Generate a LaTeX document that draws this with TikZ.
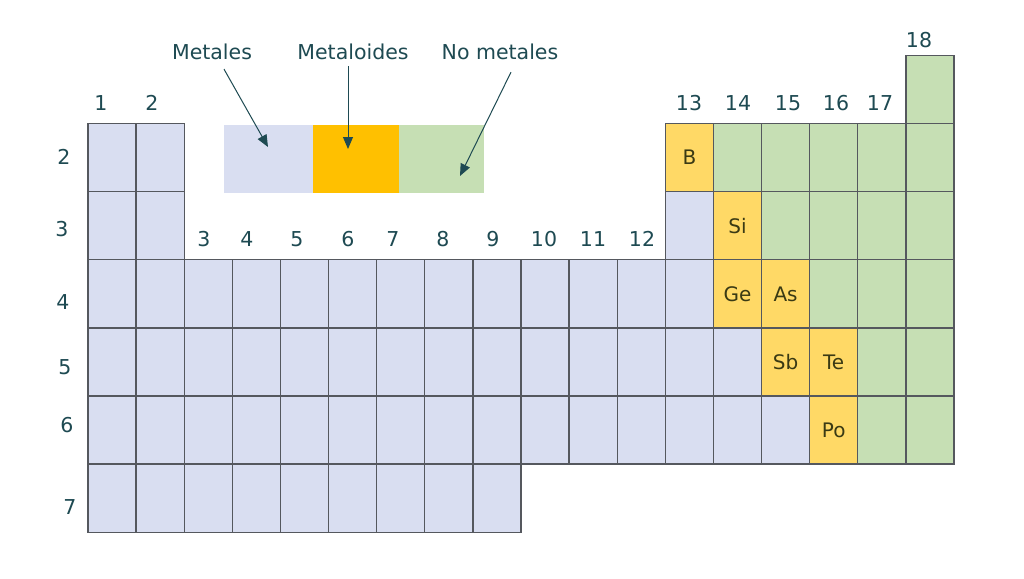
\documentclass[tikz,border=0pt]{standalone}
\usepackage{fontspec}
\setmainfont{DejaVu Sans}
\usetikzlibrary{arrows.meta}
\definecolor{metal}{HTML}{D9DEF1}
\definecolor{metalloid}{HTML}{FFD966}
\definecolor{nonmetal}{HTML}{C6DFB4}
\definecolor{legorange}{HTML}{FFC000}
\definecolor{gridline}{HTML}{55585E}
\definecolor{labeltext}{HTML}{1E4A52}
\definecolor{elemtext}{HTML}{3A3A14}
\newcommand\pcell[4]{\node[cellbox, fill=#3] (c-#2-#1) at ({88+48.11*(#1-0.5)},{55.5+68.1*(#2-0.5)}) {#4};}
\begin{document}
\begin{tikzpicture}[x=1pt,y=-1pt,
  cellbox/.style={draw=gridline, line width=1.3pt, minimum width=48.11pt, minimum height=68.1pt, inner sep=0pt, text=elemtext, font=\fontsize{20}{22}\selectfont},
  lbl/.style={text=labeltext, font=\fontsize{20.5}{23}\selectfont, inner sep=0pt},
  legbox/.style={minimum height=68pt, inner sep=0pt, draw=none},
  ptr/.style={draw=labeltext, line width=1pt, -{Triangle[length=12pt,width=10pt]}}]
\useasboundingbox[fill=white] (0,0) rectangle (1024,578);

% period 1
\pcell{18}{1}{nonmetal}{}
% periods 2 and 3
\foreach \r in {2,3}{\foreach \c in {1,2}{\pcell{\c}{\r}{metal}{}}}
\pcell{13}{2}{metalloid}{B}
\foreach \c in {14,...,18}{\pcell{\c}{2}{nonmetal}{}}
\pcell{13}{3}{metal}{}
\pcell{14}{3}{metalloid}{Si}
\foreach \c in {15,...,18}{\pcell{\c}{3}{nonmetal}{}}
% period 4
\foreach \c in {1,...,13}{\pcell{\c}{4}{metal}{}}
\pcell{14}{4}{metalloid}{Ge}
\pcell{15}{4}{metalloid}{As}
\foreach \c in {16,17,18}{\pcell{\c}{4}{nonmetal}{}}
% period 5
\foreach \c in {1,...,14}{\pcell{\c}{5}{metal}{}}
\pcell{15}{5}{metalloid}{Sb}
\pcell{16}{5}{metalloid}{Te}
\foreach \c in {17,18}{\pcell{\c}{5}{nonmetal}{}}
% period 6
\foreach \c in {1,...,15}{\pcell{\c}{6}{metal}{}}
\pcell{16}{6}{metalloid}{Po}
\foreach \c in {17,18}{\pcell{\c}{6}{nonmetal}{}}
% period 7
\foreach \c in {1,...,9}{\pcell{\c}{7}{metal}{}}

% group labels
\node[lbl] (g1) at (101,103) {1};
\node[lbl] (g2) at (152,103) {2};
\node[lbl] (g13) at (689,103) {13};
\node[lbl] (g14) at (738,103) {14};
\node[lbl] (g15) at (788,103) {15};
\node[lbl] (g16) at (836,103) {16};
\node[lbl] (g17) at (880,103) {17};
\node[lbl] (g18) at (919,40) {18};
\node[lbl] (g3) at (204,239) {3};
\node[lbl] (g4) at (247,239) {4};
\node[lbl] (g5) at (297,239) {5};
\node[lbl] (g6) at (348,239) {6};
\node[lbl] (g7) at (393,239) {7};
\node[lbl] (g8) at (443,239) {8};
\node[lbl] (g9) at (493,239) {9};
\node[lbl] (g10) at (544,239) {10};
\node[lbl] (g11) at (593,239) {11};
\node[lbl] (g12) at (642,239) {12};

% period labels
\node[lbl] (p2) at (64,157) {2};
\node[lbl] (p3) at (62,229) {3};
\node[lbl] (p4) at (63,302) {4};
\node[lbl] (p5) at (65,367) {5};
\node[lbl] (p6) at (67,425) {6};
\node[lbl] (p7) at (70,507) {7};

% legend
\node[legbox, fill=metal, minimum width=89pt] (legm) at (268.5,159) {};
\node[legbox, fill=legorange, minimum width=86pt] (legx) at (356,159) {};
\node[legbox, fill=nonmetal, minimum width=85pt] (legn) at (441.5,159) {};
\node[lbl] (tm) at (212,52) {Metales};
\node[lbl] (tx) at (353,52) {Metaloides};
\node[lbl] (tn) at (500,52) {No metales};
\coordinate (am) at (268,147);
\coordinate (ax) at (348,149);
\coordinate (an) at (460,176);
\draw[ptr] ([xshift=12pt,yshift=-9pt]tm.south) -- (am);
\draw[ptr] ([xshift=-5pt,yshift=-6pt]tx.south) -- (ax);
\draw[ptr] ([xshift=11pt,yshift=-12pt]tn.south) -- (an);
\end{tikzpicture}
\end{document}
